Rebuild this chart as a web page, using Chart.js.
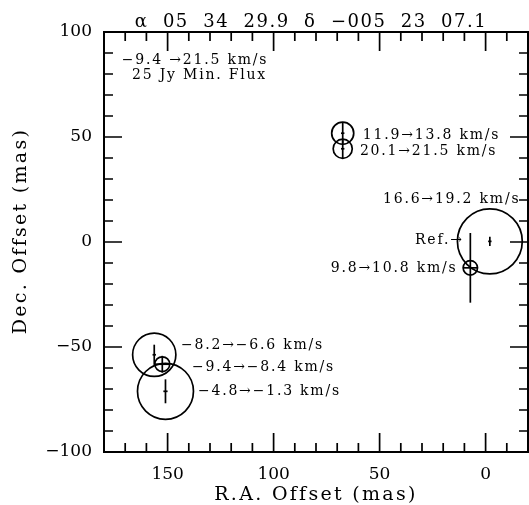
<!DOCTYPE html>
<html>
<head>
<meta charset="utf-8">
<script src="https://cdn.jsdelivr.net/npm/chart.js@4/dist/chart.umd.min.js"></script>
<style>
  html, body { margin: 0; padding: 0; background: #fff; }
  #wrap { width: 529px; height: 505px; }
</style>
</head>
<body>
<div id="wrap"><canvas id="maser" width="529" height="505"></canvas></div>
<script>
// spot data (mas)
const spotNames = ['11.9→13.8 km/s', '20.1→21.5 km/s', '16.6→19.2 km/s', '9.8→10.8 km/s',
                   '−8.2→−6.6 km/s', '−9.4→−8.4 km/s', '−4.8→−1.3 km/s'];
const spotX  = [67.4, 67.4, -2.0, 7.2, 156.3, 152.5, 151.0];
const spotY  = [51.8, 44.4, 0.3, -12.3, -53.7, -58.2, -71.1];
const spotR  = [5.2, 4.5, 15.3, 3.4, 10.2, 3.5, 13.2];
const spotEx = [0.8, 0.8, 0.8, 3.4, 0.8, 3.5, 1.0];
const spotEy = [5.0, 4.4, 2.2, 16.6, 4.8, 4.0, 5.7];

// where the labels sit (data coords)
const labelX = [57.9, 59.3, 48.4, 73.0, 143.7, 138.5, 135.7];
const labelY = [51.0, 43.3, 20.5, -12.4, -49.4, -59.8, -71.2];

const noteText = ['−9.4 →21.5 km/s', '25 Jy Min. Flux', 'Ref.→'];
const noteX = [171.6, 166.8, 33.3];
const noteY = [86.7, 79.5, 1.0];

const xTicks = [150, 100, 50, 0];
const yTicks = [-100, -50, 0, 50, 100];
const xMin = -20, xMax = 180, yMin = -100, yMax = 100;

const titleText = 'α  05  34  29.9  δ  −005  23  07.1';
const FONT = '"DejaVu Serif", serif';

const fmt = v => v < 0 ? '−' + Math.abs(v) : String(v);

const frame = {
    id: 'frame',
    afterDraw(chart) {
        const c = chart.ctx;
        const { left, right, top, bottom } = chart.chartArea;
        const sx = chart.scales.x, sy = chart.scales.y;
        c.save();
        c.strokeStyle = '#000';
        c.lineWidth = 2;
        c.strokeRect(left, top, right - left, bottom - top);

        // inward ticks, minor every 10
        c.lineWidth = 1.7;
        c.beginPath();
        for (let v = xMin + 10; v < xMax; v += 10) {
            const px = sx.getPixelForValue(v);
            const len = v % 50 === 0 ? 19 : 9;
            c.moveTo(px, bottom); c.lineTo(px, bottom - len);
            c.moveTo(px, top); c.lineTo(px, top + len);
        }
        for (let v = yMin + 10; v < yMax; v += 10) {
            const py = sy.getPixelForValue(v);
            const len = v % 50 === 0 ? 18 : 9;
            c.moveTo(left, py); c.lineTo(left + len, py);
            c.moveTo(right, py); c.lineTo(right - len, py);
        }
        c.stroke();

        c.fillStyle = '#000';
        c.textBaseline = 'middle';
        c.textAlign = 'left';
        c.font = '14px ' + FONT;
        c.letterSpacing = '1.8px';
        spotNames.forEach((t, i) => {
            c.fillText(t, sx.getPixelForValue(labelX[i]), sy.getPixelForValue(labelY[i]));
        });
        noteText.forEach((t, i) => {
            c.fillText(t, sx.getPixelForValue(noteX[i]), sy.getPixelForValue(noteY[i]));
        });

        // titles
        c.textAlign = 'center';
        c.font = '18px ' + FONT;
        c.letterSpacing = '1.5px';
        c.fillText(titleText, 311, 22);

        c.font = '19px ' + FONT;
        c.letterSpacing = '2.3px';
        c.fillText('R.A. Offset (mas)', (left + right) / 2, 495);

        c.translate(21, 231);
        c.rotate(-Math.PI / 2);
        c.fillText('Dec. Offset (mas)', 0, 0);
        c.restore();
    }
};

const circles = {
    type: 'scatter',
    data: spotX.map((x, i) => ({ x: x, y: spotY[i] })),
    pointRadius: ctx => {
        const s = ctx.chart.scales.x;
        return Math.abs(s.getPixelForValue(spotR[ctx.dataIndex]) - s.getPixelForValue(0));
    },
    pointBackgroundColor: 'rgba(0,0,0,0)',
    pointBorderColor: '#000',
    pointBorderWidth: 1.7,
    showLine: false
};

const bar = (pts) => ({
    type: 'scatter',
    data: pts,
    showLine: true,
    borderColor: '#000',
    borderWidth: 1.7,
    pointRadius: 0
});

const vBars = spotX.map((x, i) => bar([{ x: x, y: spotY[i] - spotEy[i] }, { x: x, y: spotY[i] + spotEy[i] }]));
const hBars = spotX.map((x, i) => bar([{ x: x - spotEx[i], y: spotY[i] }, { x: x + spotEx[i], y: spotY[i] }]));

new Chart(document.getElementById('maser').getContext('2d'), {
    type: 'scatter',
    data: { datasets: [circles, ...vBars, ...hBars] },
    options: {
        responsive: false,
        animation: false,
        events: [],
        layout: { padding: { top: 32, right: 1, left: 0, bottom: 0 } },
        plugins: { legend: { display: false }, tooltip: { enabled: false } },
        scales: {
            x: {
                type: 'linear', reverse: true, min: xMin, max: xMax,
                grid: { display: false, drawTicks: false },
                border: { display: false },
                afterBuildTicks: s => { s.ticks = xTicks.map(v => ({ value: v })); },
                afterFit: s => { s.height = 53; },
                ticks: { padding: 12, color: '#000', font: { family: 'DejaVu Serif', size: 17 }, callback: fmt, maxRotation: 0 }
            },
            y: {
                type: 'linear', min: yMin, max: yMax,
                grid: { display: false, drawTicks: false },
                border: { display: false },
                afterBuildTicks: s => { s.ticks = yTicks.map(v => ({ value: v })); },
                afterFit: s => { s.width = 104; },
                ticks: { padding: 12, color: '#000', font: { family: 'DejaVu Serif', size: 17 }, callback: fmt }
            }
        }
    },
    plugins: [frame]
});
</script>
</body>
</html>
